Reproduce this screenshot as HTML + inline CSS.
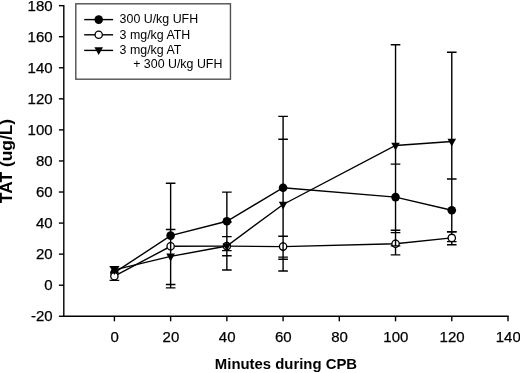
<!DOCTYPE html>
<html><head><meta charset="utf-8"><style>
html,body{margin:0;padding:0;background:#fff;width:520px;height:373px;overflow:hidden}
svg{display:block;will-change:transform}
</style></head><body>
<svg width="520" height="373" viewBox="0 0 520 373">
<rect width="520" height="373" fill="#fff"/>
<g stroke="#000" stroke-width="1.4" fill="none">
<line x1="63.8" y1="4.960000000000025" x2="63.8" y2="317.0"/>
<line x1="63.099999999999994" y1="316.3" x2="508.7" y2="316.3"/>
<line x1="58.9" y1="316.26" x2="63.8" y2="316.26"/>
<line x1="58.9" y1="285.20" x2="63.8" y2="285.20"/>
<line x1="58.9" y1="254.14" x2="63.8" y2="254.14"/>
<line x1="58.9" y1="223.08" x2="63.8" y2="223.08"/>
<line x1="58.9" y1="192.02" x2="63.8" y2="192.02"/>
<line x1="58.9" y1="160.96" x2="63.8" y2="160.96"/>
<line x1="58.9" y1="129.90" x2="63.8" y2="129.90"/>
<line x1="58.9" y1="98.84" x2="63.8" y2="98.84"/>
<line x1="58.9" y1="67.78" x2="63.8" y2="67.78"/>
<line x1="58.9" y1="36.72" x2="63.8" y2="36.72"/>
<line x1="58.9" y1="5.66" x2="63.8" y2="5.66"/>
<line x1="114.40" y1="316.3" x2="114.40" y2="321.3"/>
<line x1="170.63" y1="316.3" x2="170.63" y2="321.3"/>
<line x1="226.86" y1="316.3" x2="226.86" y2="321.3"/>
<line x1="283.09" y1="316.3" x2="283.09" y2="321.3"/>
<line x1="339.31" y1="316.3" x2="339.31" y2="321.3"/>
<line x1="395.54" y1="316.3" x2="395.54" y2="321.3"/>
<line x1="451.77" y1="316.3" x2="451.77" y2="321.3"/>
<line x1="508.00" y1="316.3" x2="508.00" y2="321.3"/>
</g>
<g font-family='"Liberation Sans", sans-serif' font-size="15" fill="#000" stroke="#000" stroke-width="0.25">
<text x="52.6" y="321.16" text-anchor="end">-20</text>
<text x="52.6" y="290.10" text-anchor="end">0</text>
<text x="52.6" y="259.04" text-anchor="end">20</text>
<text x="52.6" y="227.98" text-anchor="end">40</text>
<text x="52.6" y="196.92" text-anchor="end">60</text>
<text x="52.6" y="165.86" text-anchor="end">80</text>
<text x="52.6" y="134.80" text-anchor="end">100</text>
<text x="52.6" y="103.74" text-anchor="end">120</text>
<text x="52.6" y="72.68" text-anchor="end">140</text>
<text x="52.6" y="41.62" text-anchor="end">160</text>
<text x="52.6" y="10.56" text-anchor="end">180</text>
<text x="114.70" y="341.9" text-anchor="middle">0</text>
<text x="170.93" y="341.9" text-anchor="middle">20</text>
<text x="227.16" y="341.9" text-anchor="middle">40</text>
<text x="283.39" y="341.9" text-anchor="middle">60</text>
<text x="339.61" y="341.9" text-anchor="middle">80</text>
<text x="395.84" y="341.9" text-anchor="middle">100</text>
<text x="452.07" y="341.9" text-anchor="middle">120</text>
<text x="508.30" y="341.9" text-anchor="middle">140</text>
</g>
<text x="286" y="369.1" text-anchor="middle" font-family='"Liberation Sans", sans-serif' font-weight="bold" font-size="14.9">Minutes during CPB</text>
<text transform="translate(12.4,161) rotate(-90)" x="0" y="0" text-anchor="middle" font-family='"Liberation Sans", sans-serif' font-weight="bold" font-size="17.4">TAT (ug/L)</text>
<polyline points="114.40,272.70 170.63,235.60 226.86,221.30 283.09,187.70 395.54,197.10 451.77,210.30" stroke="#000" stroke-width="1.4" fill="none"/>
<g stroke="#000" stroke-width="1.4" fill="none">
<path d="M170.63,183.20V287.90M165.83,183.20H175.43M165.83,287.90H175.43"/>
<path d="M226.86,192.10V250.60M222.06,192.10H231.66M222.06,250.60H231.66"/>
<path d="M283.09,116.40V259.30M278.29,116.40H287.89M278.29,259.30H287.89"/>
<path d="M395.54,164.10V230.20M390.74,164.10H400.34M390.74,230.20H400.34"/>
<path d="M451.77,179.00V241.60M446.97,179.00H456.57M446.97,241.60H456.57"/>
</g>
<circle cx="114.40" cy="272.70" r="4.3" fill="#000"/>
<circle cx="170.63" cy="235.60" r="4.3" fill="#000"/>
<circle cx="226.86" cy="221.30" r="4.3" fill="#000"/>
<circle cx="283.09" cy="187.70" r="4.3" fill="#000"/>
<circle cx="395.54" cy="197.10" r="4.3" fill="#000"/>
<circle cx="451.77" cy="210.30" r="4.3" fill="#000"/>
<polyline points="114.40,276.20 170.63,246.30 226.86,246.10 283.09,246.60 395.54,243.70 451.77,237.90" stroke="#000" stroke-width="1.4" fill="none"/>
<g stroke="#000" stroke-width="1.4" fill="none">
<path d="M114.40,272.00V280.40M109.60,280.40H119.20"/>
<path d="M226.86,250.60V255.80M222.06,236.60H231.66M222.06,255.80H231.66"/>
<path d="M278.29,236.30H287.89M278.29,257.10H287.89"/>
<path d="M395.54,232.60V254.90M390.74,232.60H400.34M390.74,254.90H400.34"/>
<path d="M451.77,241.60V244.70M446.97,231.70H456.57M446.97,244.70H456.57"/>
</g>
<circle cx="114.40" cy="276.20" r="3.65" fill="#fff" stroke="#000" stroke-width="1.3"/>
<circle cx="170.63" cy="246.30" r="3.65" fill="#fff" stroke="#000" stroke-width="1.3"/>
<circle cx="226.86" cy="246.10" r="3.65" fill="#fff" stroke="#000" stroke-width="1.3"/>
<circle cx="283.09" cy="246.60" r="3.65" fill="#fff" stroke="#000" stroke-width="1.3"/>
<circle cx="395.54" cy="243.70" r="3.65" fill="#fff" stroke="#000" stroke-width="1.3"/>
<circle cx="451.77" cy="237.90" r="3.65" fill="#fff" stroke="#000" stroke-width="1.3"/>
<polyline points="114.40,269.90 170.63,256.40 226.86,246.00 283.09,204.50 395.54,145.50 451.77,141.50" stroke="#000" stroke-width="1.4" fill="none"/>
<g stroke="#000" stroke-width="1.4" fill="none">
<path d="M114.40,271.60V272.00M114.40,266.60V271.60M109.60,266.60H119.20"/>
<path d="M170.63,241.70V250.90M165.83,229.50H175.43M165.83,284.50H175.43"/>
<path d="M226.86,241.50V250.70M226.86,255.80V270.00M222.06,222.00H231.66M222.06,270.00H231.66"/>
<path d="M283.09,242.00V251.20M283.09,259.30V271.00M278.29,139.20H287.89M278.29,271.00H287.89"/>
<path d="M395.54,239.10V245.90M395.54,44.80V164.10M395.54,230.20V232.60M390.74,44.80H400.34M390.74,245.90H400.34"/>
<path d="M451.77,52.20V179.00M446.97,52.20H456.57M446.97,231.70H456.57"/>
</g>
<path d="M110.10,267.10 L118.70,267.10 L114.40,274.90 Z" fill="#000"/>
<path d="M166.33,253.60 L174.93,253.60 L170.63,261.40 Z" fill="#000"/>
<path d="M222.56,243.20 L231.16,243.20 L226.86,251.00 Z" fill="#000"/>
<path d="M278.79,201.70 L287.39,201.70 L283.09,209.50 Z" fill="#000"/>
<path d="M391.24,142.70 L399.84,142.70 L395.54,150.50 Z" fill="#000"/>
<path d="M447.47,138.70 L456.07,138.70 L451.77,146.50 Z" fill="#000"/>
<rect x="75.8" y="3.8" width="154.65" height="75.4" fill="none" stroke="#505050" stroke-width="1.4"/>
<g stroke="#000" stroke-width="1.4">
<line x1="84.2" y1="19.6" x2="113.1" y2="19.6"/>
<line x1="84.2" y1="34.8" x2="113.1" y2="34.8"/>
<line x1="84.2" y1="50.4" x2="113.1" y2="50.4"/>
</g>
<circle cx="98.7" cy="19.6" r="4.3" fill="#000"/>
<circle cx="98.7" cy="34.8" r="3.65" fill="#fff" stroke="#000" stroke-width="1.3"/>
<path d="M94.40,47.30 L103.00,47.30 L98.70,55.10 Z" fill="#000"/>
<g font-family='"Liberation Sans", sans-serif' font-size="12.4" fill="#000">
<text x="119.6" y="23.1">300 U/kg UFH</text>
<text x="119.6" y="38.7">3 mg/kg ATH</text>
<text x="119.6" y="54.3">3 mg/kg AT</text>
<text x="133.2" y="67.8">+ 300 U/kg UFH</text>
</g>
</svg>
</body></html>
